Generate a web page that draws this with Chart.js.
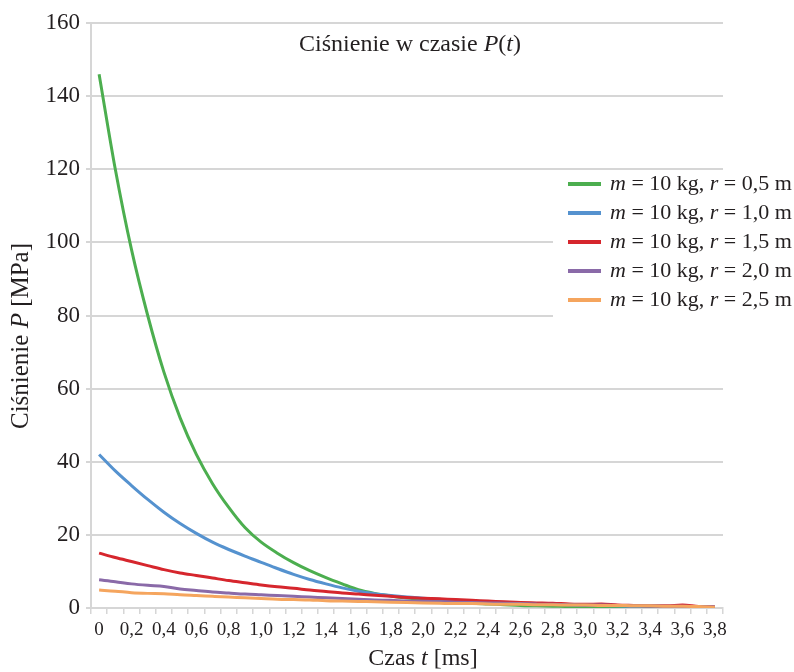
<!DOCTYPE html>
<html>
<head>
  <title>Ciśnienie w czasie P(t)</title>
  <script src="https://cdn.jsdelivr.net/npm/chart.js"></script>
  <style>
    body { margin: 0; background: #fff; }
  </style>
</head>
<body>
  <canvas id="pressure-chart" width="794" height="672"></canvas>
  <script>
    // Time axis categories [ms], one every 0.1 ms, labelled every 0.2 ms
    const times = ['0', '0,1', '0,2', '0,3', '0,4', '0,5', '0,6', '0,7', '0,8', '0,9',
                   '1,0', '1,1', '1,2', '1,3', '1,4', '1,5', '1,6', '1,7', '1,8', '1,9',
                   '2,0', '2,1', '2,2', '2,3', '2,4', '2,5', '2,6', '2,7', '2,8', '2,9',
                   '3,0', '3,1', '3,2', '3,3', '3,4', '3,5', '3,6', '3,7', '3,8'];

    // Pressure [MPa] for m = 10 kg and various r
    const r05 = [146, 120, 98, 80, 64.5, 52, 42, 34, 27.5, 22, 18, 15, 12.4, 10.2, 8.3, 6.6, 5.0, 4.0, 3.3, 2.7,
                 2.2, 1.9, 1.6, 1.3, 1.1, 0.9, 0.7, 0.6, 0.5, 0.4, 0.4, 0.3, 0.3, 0.2, 0.2, 0.2, 0.1, 0.1, 0.1];
    const r10 = [42, 37.5, 33.5, 29.7, 26.2, 23.1, 20.4, 18, 16, 14.2, 12.5, 10.8, 9.2, 7.8, 6.6, 5.5, 4.6, 3.9, 3.4, 3.0,
                 2.7, 2.4, 2.1, 1.9, 1.7, 1.5, 1.3, 1.1, 1.0, 0.9, 0.8, 0.7, 0.6, 0.5, 0.5, 0.4, 0.4, 0.3, 0.3];
    const r15 = [15, 13.8, 12.7, 11.6, 10.5, 9.6, 8.9, 8.2, 7.5, 6.9, 6.3, 5.8, 5.4, 4.9, 4.5, 4.1, 3.8, 3.5, 3.2, 2.9,
                 2.7, 2.5, 2.3, 2.1, 1.9, 1.7, 1.5, 1.4, 1.3, 1.1, 1.0, 1.1, 0.8, 0.7, 0.6, 0.6, 0.8, 0.4, 0.3];
    const r20 = [7.7, 7.2, 6.6, 6.2, 5.9, 5.2, 4.8, 4.4, 4.1, 3.8, 3.6, 3.4, 3.2, 3.0, 2.8, 2.6, 2.4, 2.2, 2.1, 1.9,
                 1.8, 1.7, 1.6, 1.5, 1.4, 1.3, 1.2, 1.1, 1.0, 0.9, 0.8, 0.8, 0.7, 0.6, 0.6, 0.5, 0.5, 0.4, 0.3];
    const r25 = [4.9, 4.6, 4.2, 4.0, 3.9, 3.6, 3.4, 3.2, 3.0, 2.8, 2.6, 2.4, 2.3, 2.2, 2.0, 1.9, 1.8, 1.7, 1.6, 1.5,
                 1.4, 1.3, 1.2, 1.2, 1.1, 1.0, 1.0, 0.9, 0.9, 0.8, 0.8, 0.7, 0.7, 0.6, 0.6, 0.5, 0.5, 0.4, 0.2];

    const radii = ['0,5', '1,0', '1,5', '2,0', '2,5'];
    const series = [r05, r10, r15, r20, r25];
    const colors = ['#4cae4f', '#5592cf', '#d6262d', '#8a6aa8', '#f5a55e'];

    const FONT = "'Liberation Serif', 'DejaVu Serif', serif";
    const INK = '#231f20';
    const GRID = '#d6d6d6';

    // draw a run of [text, italic] parts, starting at x (left aligned)
    function drawParts(ctx, parts, x, y, size) {
      parts.forEach(([text, italic]) => {
        ctx.font = (italic ? 'italic ' : '') + size + 'px ' + FONT;
        ctx.fillText(text, x, y);
        x += ctx.measureText(text).width;
      });
      return x;
    }
    function partsWidth(ctx, parts, size) {
      let w = 0;
      parts.forEach(([text, italic]) => {
        ctx.font = (italic ? 'italic ' : '') + size + 'px ' + FONT;
        w += ctx.measureText(text).width;
      });
      return w;
    }
    function drawCentered(ctx, parts, cx, cy, size) {
      drawParts(ctx, parts, cx - partsWidth(ctx, parts, size) / 2, cy, size);
    }

    const textPlugin = {
      id: 'richText',
      beforeDatasetsDraw(chart) {
        // legend box hides the grid lines behind it
        const ctx = chart.ctx;
        ctx.save();
        ctx.fillStyle = '#fff';
        ctx.fillRect(553, 174, 241, 150);
        ctx.restore();
      },
      afterDraw(chart) {
        const ctx = chart.ctx;
        ctx.save();
        ctx.fillStyle = INK;
        ctx.textBaseline = 'middle';

        drawCentered(ctx, [['Ciśnienie w czasie ', false], ['P', true], ['(', false], ['t', true], [')', false]], 410, 45, 24);
        drawCentered(ctx, [['Czas ', false], ['t', true], [' [ms]', false]], 423, 659, 24);

        ctx.save();
        ctx.translate(21, 336);
        ctx.rotate(-Math.PI / 2);
        drawCentered(ctx, [['Ciśnienie ', false], ['P', true], [' [MPa]', false]], 0, 0, 25);
        ctx.restore();

        // legend
        radii.forEach((r, i) => {
          const y = 184 + i * 29;
          ctx.strokeStyle = colors[i];
          ctx.lineWidth = 4;
          ctx.beginPath();
          ctx.moveTo(568, y);
          ctx.lineTo(601, y);
          ctx.stroke();
          ctx.fillStyle = INK;
          drawParts(ctx, [['m', true], [' = 10 kg, ', false], ['r', true], [' = ' + r + ' m', false]], 610, y, 22);
        });
        ctx.restore();
      }
    };

    const ctx = document.getElementById('pressure-chart').getContext('2d');
    new Chart(ctx, {
      type: 'line',
      data: {
        labels: times,
        datasets: series.map((values, i) => ({
          label: 'm = 10 kg, r = ' + radii[i] + ' m',
          data: values,
          borderColor: colors[i],
          backgroundColor: colors[i],
          borderWidth: 3,
          pointRadius: 0,
          cubicInterpolationMode: 'monotone',
          order: 4 - i,
        })),
      },
      options: {
        responsive: false,
        animation: false,
        layout: { padding: { top: 23, right: 71, left: 0, bottom: 0 } },
        plugins: {
          legend: { display: false },
          tooltip: { enabled: false },
        },
        scales: {
          x: {
            type: 'category',
            offset: true,
            afterFit(scale) { scale.height = 64; },
            grid: { drawOnChartArea: false, offset: true, tickLength: 6, color: GRID, lineWidth: 1.5 },
            border: { display: true, color: GRID, width: 2 },
            ticks: {
              autoSkip: false,
              maxRotation: 0,
              padding: 5,
              color: INK,
              font: { family: FONT, size: 19 },
              callback(value, index) { return index % 2 === 0 ? times[index] : ''; },
            },
          },
          y: {
            min: 0,
            max: 160,
            afterFit(scale) { scale.width = 91; },
            grid: { tickLength: 5, color: GRID, lineWidth: 2 },
            border: { display: true, color: GRID, width: 2 },
            ticks: {
              stepSize: 20,
              padding: 6,
              color: INK,
              font: { family: FONT, size: 23 },
            },
          },
        },
      },
      plugins: [textPlugin],
    });
  </script>
</body>
</html>
